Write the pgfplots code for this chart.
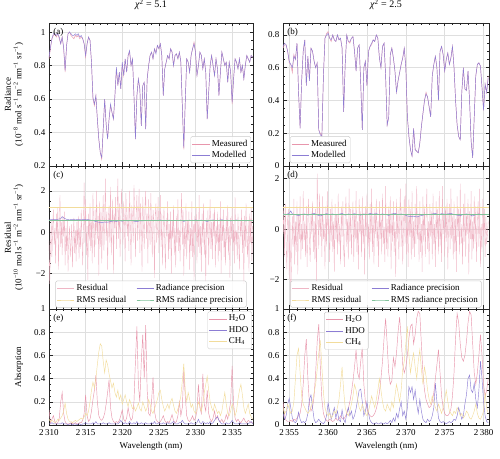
\documentclass[border=0pt]{standalone}
\usepackage{fontspec}
\setmainfont{Liberation Serif}
\usepackage{pgfplots}
\usepackage{pgfplotstable}
\pgfplotsset{compat=1.18}
\definecolor{pinkc}{RGB}{232,150,172}
\definecolor{purplec}{RGB}{140,125,212}
\definecolor{yellowc}{RGB}{242,220,155}
\definecolor{greenc}{RGB}{130,195,155}

\pgfplotsset{
  myax/.style={
    scale only axis,
    anchor=south west,
    font=\fontsize{9}{10.5}\selectfont,
    /pgf/number format/assume math mode=true,
    axis line style={black!85, line width=0.6pt},
    grid=major,
    major grid style={gray!25, line width=0.5pt},
    tick align=inside,
    major tick length=3.5pt,
    minor tick length=2pt,
    tick style={black!85, line width=0.5pt},
    every axis plot/.append style={line width=0.45pt},
    xticklabel style={yshift=-1pt},
    legend style={font=\fontsize{9}{10.5}\selectfont, draw=gray!40, fill=white, fill opacity=0.85, text opacity=1, draw opacity=1, rounded corners=1.5pt, inner sep=1.5pt},
    legend cell align=left,
    title style={anchor=base, at={(axis description cs:0.5,1)}, yshift=9pt, font=\fontsize{10}{12}\selectfont},
  },
  leftcol/.style={xmin=2310, xmax=2337.85, width=204pt, xtick={2310,2315,2320,2325,2330,2335}, minor xtick={2311,2312,...,2337}},
  rightcol/.style={xmin=2354.2, xmax=2380.7, width=206pt, xtick={2355,2360,2365,2370,2375,2380}, minor xtick={2355,2356,...,2380}},
}

\pgfplotstableread{
x meas model
2310.0 0.84 0.85
2310.2 0.90 0.91
2310.4 0.96 0.96
2310.6 0.98 0.99
2310.8 0.99 0.99
2311.0 0.97 0.98
2311.2 0.99 0.99
2311.4 0.96 0.97
2311.6 0.93 0.93
2311.8 0.97 0.97
2312.0 0.90 0.91
2312.2 0.76 0.77
2312.4 0.92 0.92
2312.6 0.99 0.99
2312.8 1.00 1.00
2313.0 0.98 0.99
2313.2 0.97 0.98
2313.4 0.96 0.98
2313.6 0.98 0.99
2313.8 0.97 0.98
2314.0 0.98 0.99
2314.2 0.96 0.97
2314.4 0.97 0.98
2314.6 0.96 0.96
2314.8 0.93 0.93
2315.0 0.85 0.86
2315.2 0.93 0.93
2315.4 0.97 0.97
2315.6 0.95 0.95
2315.8 0.82 0.82
2316.0 0.60 0.61
2316.2 0.56 0.57
2316.4 0.62 0.62
2316.6 0.48 0.48
2316.8 0.36 0.36
2317.0 0.28 0.28
2317.2 0.24 0.25
2317.4 0.42 0.42
2317.6 0.60 0.60
2317.8 0.45 0.45
2318.0 0.36 0.36
2318.2 0.48 0.48
2318.4 0.56 0.57
2318.6 0.52 0.52
2318.8 0.48 0.48
2319.0 0.62 0.62
2319.2 0.78 0.79
2319.4 0.68 0.68
2319.6 0.76 0.76
2319.8 0.66 0.66
2320.0 0.81 0.82
2320.2 0.74 0.74
2320.4 0.84 0.84
2320.6 0.76 0.76
2320.8 0.86 0.86
2321.0 0.88 0.89
2321.2 0.80 0.80
2321.4 0.84 0.84
2321.6 0.62 0.62
2321.8 0.36 0.36
2322.0 0.62 0.62
2322.2 0.72 0.72
2322.4 0.66 0.66
2322.6 0.44 0.44
2322.8 0.68 0.68
2323.0 0.70 0.70
2323.2 0.42 0.42
2323.4 0.72 0.72
2323.6 0.80 0.80
2323.8 0.86 0.86
2324.0 0.88 0.88
2324.2 0.84 0.84
2324.4 0.90 0.90
2324.6 0.88 0.87
2324.8 0.92 0.92
2325.0 0.90 0.90
2325.2 0.93 0.93
2325.4 0.86 0.86
2325.6 0.62 0.62
2325.8 0.78 0.78
2326.0 0.82 0.82
2326.2 0.86 0.86
2326.4 0.84 0.84
2326.6 0.90 0.90
2326.8 0.88 0.88
2327.0 0.80 0.80
2327.2 0.86 0.86
2327.4 0.87 0.87
2327.6 0.84 0.84
2327.8 0.88 0.88
2328.0 0.82 0.82
2328.2 0.56 0.56
2328.4 0.30 0.31
2328.6 0.58 0.58
2328.8 0.84 0.84
2329.0 0.82 0.82
2329.2 0.76 0.76
2329.4 0.86 0.86
2329.6 0.90 0.90
2329.8 0.94 0.93
2330.0 0.88 0.88
2330.2 0.74 0.74
2330.4 0.80 0.80
2330.6 0.88 0.88
2330.8 0.86 0.86
2331.0 0.78 0.78
2331.2 0.84 0.84
2331.4 0.76 0.76
2331.6 0.48 0.48
2331.8 0.64 0.64
2332.0 0.80 0.80
2332.2 0.86 0.86
2332.4 0.80 0.80
2332.6 0.74 0.74
2332.8 0.84 0.84
2333.0 0.78 0.78
2333.2 0.62 0.62
2333.4 0.76 0.76
2333.6 0.88 0.88
2333.8 0.84 0.84
2334.0 0.80 0.80
2334.2 0.82 0.82
2334.4 0.70 0.70
2334.6 0.82 0.82
2334.8 0.76 0.76
2335.0 0.57 0.58
2335.2 0.72 0.72
2335.4 0.84 0.84
2335.6 0.82 0.82
2335.8 0.78 0.78
2336.0 0.84 0.84
2336.2 0.76 0.76
2336.4 0.80 0.80
2336.6 0.72 0.72
2336.8 0.80 0.80
2337.0 0.86 0.86
2337.2 0.84 0.84
2337.4 0.82 0.82
2337.6 0.86 0.86
2337.8 0.85 0.85
}\taba

\pgfplotstableread{
x meas model
2354.2 0.72 0.73
2354.4 0.74 0.75
2354.6 0.74 0.74
2354.8 0.70 0.70
2355.0 0.63 0.64
2355.2 0.62 0.62
2355.4 0.57 0.60
2355.6 0.68 0.67
2355.8 0.65 0.65
2356.0 0.75 0.75
2356.2 0.45 0.45
2356.4 0.23 0.23
2356.6 0.52 0.52
2356.8 0.70 0.70
2357.0 0.77 0.77
2357.2 0.49 0.49
2357.4 0.67 0.67
2357.6 0.52 0.52
2357.8 0.72 0.72
2358.0 0.70 0.70
2358.2 0.64 0.64
2358.4 0.60 0.60
2358.6 0.63 0.63
2358.8 0.22 0.22
2359.0 0.20 0.19
2359.2 0.18 0.18
2359.4 0.55 0.55
2359.6 0.78 0.78
2359.8 0.81 0.80
2360.0 0.82 0.81
2360.2 0.78 0.78
2360.4 0.76 0.77
2360.6 0.80 0.80
2360.8 0.77 0.77
2361.0 0.76 0.76
2361.2 0.80 0.80
2361.4 0.77 0.77
2361.6 0.78 0.78
2361.8 0.72 0.72
2362.0 0.33 0.33
2362.2 0.62 0.62
2362.4 0.80 0.80
2362.6 0.76 0.76
2362.8 0.75 0.76
2363.0 0.78 0.78
2363.2 0.79 0.79
2363.4 0.70 0.70
2363.6 0.58 0.58
2363.8 0.72 0.72
2364.0 0.74 0.74
2364.2 0.50 0.50
2364.4 0.22 0.22
2364.6 0.60 0.60
2364.8 0.64 0.64
2365.0 0.49 0.49
2365.2 0.70 0.70
2365.4 0.73 0.73
2365.6 0.74 0.75
2365.8 0.77 0.77
2366.0 0.76 0.76
2366.2 0.80 0.80
2366.4 0.78 0.78
2366.6 0.66 0.66
2366.8 0.60 0.60
2367.0 0.73 0.73
2367.2 0.75 0.75
2367.4 0.55 0.55
2367.6 0.25 0.25
2367.8 0.30 0.30
2368.0 0.68 0.68
2368.2 0.72 0.72
2368.4 0.66 0.66
2368.6 0.58 0.58
2368.8 0.45 0.45
2369.0 0.52 0.52
2369.2 0.57 0.57
2369.4 0.62 0.62
2369.6 0.66 0.66
2369.8 0.72 0.72
2370.0 0.60 0.60
2370.2 0.30 0.30
2370.4 0.18 0.18
2370.6 0.10 0.10
2370.8 0.06 0.06
2371.0 0.23 0.23
2371.2 0.10 0.10
2371.4 0.09 0.09
2371.6 0.08 0.08
2371.8 0.14 0.14
2372.0 0.24 0.24
2372.2 0.32 0.32
2372.4 0.40 0.40
2372.6 0.45 0.44
2372.8 0.42 0.42
2373.0 0.36 0.36
2373.2 0.30 0.30
2373.4 0.55 0.55
2373.6 0.62 0.62
2373.8 0.67 0.67
2374.0 0.60 0.60
2374.2 0.40 0.40
2374.4 0.70 0.70
2374.6 0.73 0.73
2374.8 0.68 0.68
2375.0 0.58 0.58
2375.2 0.65 0.65
2375.4 0.69 0.69
2375.6 0.62 0.62
2375.8 0.66 0.66
2376.0 0.73 0.73
2376.2 0.60 0.60
2376.4 0.40 0.40
2376.6 0.25 0.25
2376.8 0.18 0.18
2377.0 0.16 0.16
2377.2 0.45 0.45
2377.4 0.60 0.60
2377.6 0.47 0.47
2377.8 0.46 0.46
2378.0 0.58 0.58
2378.2 0.40 0.40
2378.4 0.15 0.15
2378.6 0.05 0.05
2378.8 0.30 0.30
2379.0 0.55 0.55
2379.2 0.62 0.62
2379.4 0.63 0.63
2379.6 0.61 0.61
2379.8 0.48 0.48
2380.0 0.34 0.34
2380.2 0.50 0.50
2380.4 0.45 0.45
2380.6 0.55 0.54
}\tabb

\pgfplotstableread[row sep=\\]{
x r\\
2310.0 -0.4\\2310.1 -2.5\\2310.2 -0.8\\2310.3 0.6\\2310.4 -1.2\\2310.5 0.3\\2310.6 1.1\\2310.7 -0.6\\2310.8 0.2\\2310.9 -1.5\\
2311.0 0.9\\2311.1 -0.3\\2311.2 1.2\\2311.3 -1.8\\2311.4 0.4\\2311.5 1.8\\2311.6 -0.7\\2311.7 0.5\\2311.8 -1.1\\2311.9 0.8\\
2312.0 -0.2\\2312.1 1.0\\2312.2 -1.6\\2312.3 0.2\\2312.4 -0.9\\2312.5 0.6\\2312.6 -1.9\\2312.7 -0.4\\2312.8 0.3\\2312.9 -1.2\\
2313.0 -0.5\\2313.1 0.4\\2313.2 -1.7\\2313.3 -0.2\\2313.4 0.7\\2313.5 -1.0\\2313.6 0.1\\2313.7 -1.4\\2313.8 0.5\\2313.9 -0.6\\
2314.0 0.8\\2314.1 -1.3\\2314.2 0.2\\2314.3 -0.8\\2314.4 1.1\\2314.5 -0.3\\2314.6 -1.6\\2314.7 0.4\\2314.8 2.4\\2314.9 -0.5\\
2315.0 1.6\\2315.1 -1.1\\2315.2 0.3\\2315.3 -2.3\\2315.4 0.9\\2315.5 -0.4\\2315.6 1.4\\2315.7 -0.9\\2315.8 0.6\\2315.9 -1.5\\
2316.0 1.9\\2316.1 0.2\\2316.2 -1.2\\2316.3 1.1\\2316.4 -0.6\\2316.5 2.0\\2316.6 -0.3\\2316.7 0.8\\2316.8 -2.1\\2316.9 1.5\\
2317.0 -0.7\\2317.1 1.2\\2317.2 -1.5\\2317.3 0.4\\2317.4 1.8\\2317.5 -0.9\\2317.6 0.7\\2317.7 2.6\\2317.8 -0.4\\2317.9 1.0\\
2318.0 -1.8\\2318.1 0.6\\2318.2 1.3\\2318.3 -0.5\\2318.4 2.2\\2318.5 -1.1\\2318.6 0.3\\2318.7 1.6\\2318.8 -2.0\\2318.9 0.9\\
2319.0 0.2\\2319.1 1.7\\2319.2 -0.8\\2319.3 1.1\\2319.4 2.6\\2319.5 -0.3\\2319.6 1.4\\2319.7 -1.2\\2319.8 0.5\\2319.9 2.1\\
2320.0 0.8\\2320.1 -0.6\\2320.2 1.5\\2320.3 0.3\\2320.4 -1.4\\2320.5 1.9\\2320.6 0.6\\2320.7 -0.2\\2320.8 1.2\\2320.9 -0.9\\
2321.0 2.0\\2321.1 0.4\\2321.2 -1.6\\2321.3 1.3\\2321.4 0.7\\2321.5 -0.5\\2321.6 2.3\\2321.7 1.1\\2321.8 -1.2\\2321.9 0.9\\
2322.0 1.8\\2322.1 -0.4\\2322.2 0.6\\2322.3 2.1\\2322.4 -1.0\\2322.5 1.4\\2322.6 0.2\\2322.7 -1.9\\2322.8 1.7\\2322.9 0.5\\
2323.0 -0.8\\2323.1 1.2\\2323.2 2.0\\2323.3 -0.3\\2323.4 0.9\\2323.5 -1.5\\2323.6 1.6\\2323.7 0.4\\2323.8 -0.6\\2323.9 1.9\\
2324.0 0.3\\2324.1 -1.2\\2324.2 1.1\\2324.3 0.6\\2324.4 -2.2\\2324.5 0.8\\2324.6 1.4\\2324.7 -0.5\\2324.8 0.2\\2324.9 1.7\\
2325.0 -1.0\\2325.1 0.5\\2325.2 1.8\\2325.3 -0.7\\2325.4 0.9\\2325.5 -1.6\\2325.6 0.3\\2325.7 1.2\\2325.8 -0.4\\2325.9 -1.8\\
2326.0 0.7\\2326.1 -0.2\\2326.2 1.5\\2326.3 -1.3\\2326.4 0.4\\2326.5 -0.8\\2326.6 1.0\\2326.7 -2.0\\2326.8 0.6\\2326.9 -0.3\\
2327.0 1.3\\2327.1 -1.1\\2327.2 0.2\\2327.3 -1.7\\2327.4 0.8\\2327.5 -0.5\\2327.6 1.6\\2327.7 -0.9\\2327.8 0.1\\2327.9 -1.4\\
2328.0 0.5\\2328.1 1.9\\2328.2 -0.6\\2328.3 1.1\\2328.4 -2.1\\2328.5 0.3\\2328.6 -0.8\\2328.7 1.4\\2328.8 -1.3\\2328.9 0.6\\
2329.0 -0.4\\2329.1 1.0\\2329.2 -1.8\\2329.3 0.2\\2329.4 -0.9\\2329.5 1.5\\2329.6 -1.2\\2329.7 0.4\\2329.8 -2.3\\2329.9 0.8\\
2330.0 -0.1\\2330.1 1.2\\2330.2 -1.5\\2330.3 0.6\\2330.4 -0.7\\2330.5 1.8\\2330.6 -1.0\\2330.7 0.3\\2330.8 -1.9\\2330.9 0.9\\
2331.0 -0.5\\2331.1 1.4\\2331.2 -1.1\\2331.3 0.2\\2331.4 -2.4\\2331.5 0.7\\2331.6 -0.3\\2331.7 1.1\\2331.8 -1.6\\2331.9 0.4\\
2332.0 1.6\\2332.1 -0.8\\2332.2 0.5\\2332.3 -1.3\\2332.4 0.9\\2332.5 -0.2\\2332.6 1.2\\2332.7 -1.7\\2332.8 0.3\\2332.9 -0.6\\
2333.0 1.0\\2333.1 -1.4\\2333.2 0.4\\2333.3 -0.9\\2333.4 1.5\\2333.5 -2.0\\2333.6 0.6\\2333.7 -0.4\\2333.8 1.1\\2333.9 -1.2\\
2334.0 0.2\\2334.1 -1.6\\2334.2 0.8\\2334.3 -0.5\\2334.4 1.3\\2334.5 -1.1\\2334.6 0.3\\2334.7 -2.2\\2334.8 0.7\\2334.9 -0.3\\
2335.0 1.2\\2335.1 -0.9\\2335.2 0.4\\2335.3 -1.5\\2335.4 1.7\\2335.5 -0.6\\2335.6 0.1\\2335.7 -1.3\\2335.8 0.9\\2335.9 -0.4\\
2336.0 -1.8\\2336.1 0.6\\2336.2 -0.2\\2336.3 1.1\\2336.4 -1.0\\2336.5 0.5\\2336.6 -2.5\\2336.7 0.8\\2336.8 -0.7\\2336.9 1.4\\
2337.0 -0.3\\2337.1 -1.2\\2337.2 0.6\\2337.3 -1.9\\2337.4 0.9\\2337.5 -0.5\\2337.6 1.2\\2337.7 -1.4\\2337.8 0.3\\
}\resc

\pgfplotstableread[row sep=\\]{
x r\\
2354.2 -0.3\\2354.3 0.9\\2354.4 -1.1\\2354.5 1.0\\2354.6 -0.6\\2354.7 -1.6\\2354.8 0.4\\2354.9 0.8\\2355.0 -2.0\\2355.1 0.6\\
2355.2 -2.9\\2355.3 -1.2\\2355.4 0.5\\2355.5 -0.7\\2355.6 1.2\\2355.7 -1.4\\2355.8 0.3\\2355.9 -0.9\\2356.0 1.1\\2356.1 -1.8\\
2356.2 0.6\\2356.3 -0.4\\2356.4 1.3\\2356.5 -1.2\\2356.6 0.2\\2356.7 -0.8\\2356.8 1.5\\2356.9 -0.5\\2357.0 0.3\\2357.1 -1.1\\
2357.2 0.9\\2357.3 -1.5\\2357.4 0.4\\2357.5 1.2\\2357.6 -0.6\\2357.7 -1.3\\2357.8 0.7\\2357.9 -0.2\\2358.0 1.1\\2358.1 -0.9\\
2358.2 0.3\\2358.3 -1.2\\2358.4 0.8\\2358.5 -2.1\\2358.6 2.2\\2358.7 0.5\\2358.8 -0.8\\2358.9 1.4\\2359.0 -0.3\\2359.1 0.6\\
2359.2 -1.1\\2359.3 1.3\\2359.4 -0.4\\2359.5 0.2\\2359.6 -1.6\\2359.7 0.9\\2359.8 -0.7\\2359.9 1.5\\2360.0 -0.2\\2360.1 0.4\\
2360.2 -1.3\\2360.3 0.8\\2360.4 -0.5\\2360.5 1.2\\2360.6 -0.9\\2360.7 0.3\\2360.8 -1.7\\2360.9 1.0\\2361.0 -0.4\\2361.1 0.6\\
2361.2 -1.0\\2361.3 1.4\\2361.4 -0.6\\2361.5 0.2\\2361.6 -1.4\\2361.7 0.9\\2361.8 -0.3\\2361.9 1.1\\2362.0 -0.8\\2362.1 -1.5\\
2362.2 0.5\\2362.3 1.3\\2362.4 -0.7\\2362.5 0.4\\2362.6 -1.2\\2362.7 1.6\\2362.8 -0.5\\2362.9 0.8\\2363.0 -1.0\\2363.1 0.2\\
2363.2 1.1\\2363.3 -1.3\\2363.4 0.6\\2363.5 -0.4\\2363.6 1.5\\2363.7 -0.9\\2363.8 0.3\\2363.9 -1.6\\2364.0 1.2\\2364.1 -0.2\\
2364.2 0.7\\2364.3 -1.1\\2364.4 1.3\\2364.5 -0.6\\2364.6 0.4\\2364.7 -1.8\\2364.8 0.9\\2364.9 -0.3\\2365.0 1.4\\2365.1 -0.8\\
2365.2 0.2\\2365.3 -1.2\\2365.4 1.0\\2365.5 -0.5\\2365.6 1.6\\2365.7 -0.9\\2365.8 0.5\\2365.9 -1.4\\2366.0 0.8\\2366.1 -0.2\\
2366.2 1.2\\2366.3 -0.7\\2366.4 0.3\\2366.5 -1.5\\2366.6 1.1\\2366.7 -0.4\\2366.8 0.6\\2366.9 -1.0\\2367.0 1.4\\2367.1 -0.6\\
2367.2 0.1\\2367.3 -1.3\\2367.4 1.7\\2367.5 -0.8\\2367.6 0.4\\2367.7 -1.1\\2367.8 0.9\\2367.9 -0.3\\2368.0 1.3\\2368.1 -1.6\\
2368.2 0.6\\2368.3 -0.5\\2368.4 1.1\\2368.5 -0.9\\2368.6 0.3\\2368.7 -1.9\\2368.8 1.2\\2368.9 -0.4\\2369.0 0.8\\2369.1 -1.2\\
2369.2 0.4\\2369.3 1.6\\2369.4 -0.7\\2369.5 0.9\\2369.6 -1.4\\2369.7 0.2\\2369.8 1.3\\2369.9 -0.6\\2370.0 1.8\\2370.1 -1.0\\
2370.2 0.5\\2370.3 -1.5\\2370.4 1.2\\2370.5 -0.3\\2370.6 0.8\\2370.7 -1.2\\2370.8 1.5\\2370.9 -0.8\\2371.0 0.3\\2371.1 -1.1\\
2371.2 1.0\\2371.3 -0.6\\2371.4 1.7\\2371.5 -0.4\\2371.6 0.6\\2371.7 -1.3\\2371.8 1.1\\2371.9 -0.9\\2372.0 0.2\\2372.1 -1.7\\
2372.2 1.3\\2372.3 -0.5\\2372.4 0.9\\2372.5 -1.1\\2372.6 0.4\\2372.7 1.6\\2372.8 -0.8\\2372.9 0.3\\2373.0 -1.4\\2373.1 1.0\\
2373.2 -0.3\\2373.3 0.7\\2373.4 -1.2\\2373.5 1.4\\2373.6 -0.6\\2373.7 0.2\\2373.8 -1.5\\2373.9 1.1\\2374.0 -0.4\\2374.1 0.8\\
2374.2 -1.0\\2374.3 1.5\\2374.4 -0.7\\2374.5 0.4\\2374.6 -1.3\\2374.7 1.7\\2374.8 -0.2\\2374.9 0.6\\2375.0 -1.1\\2375.1 0.9\\
2375.2 -0.5\\2375.3 1.2\\2375.4 -1.6\\2375.5 0.3\\2375.6 1.0\\2375.7 -0.8\\2375.8 1.6\\2375.9 -0.4\\2376.0 0.5\\2376.1 -1.2\\
2376.2 1.1\\2376.3 -0.9\\2376.4 0.4\\2376.5 -1.7\\2376.6 1.3\\2376.7 -0.3\\2376.8 0.8\\2376.9 -1.0\\2377.0 1.8\\2377.1 -0.6\\
2377.2 0.2\\2377.3 -1.4\\2377.4 1.0\\2377.5 -0.5\\2377.6 1.4\\2377.7 -1.1\\2377.8 0.6\\2377.9 -0.2\\2378.0 1.2\\2378.1 -1.8\\
2378.2 0.7\\2378.3 -0.4\\2378.4 1.5\\2378.5 -1.2\\2378.6 0.3\\2378.7 -0.8\\2378.8 1.3\\2378.9 -0.6\\2379.0 0.9\\2379.1 -1.3\\
2379.2 0.4\\2379.3 1.1\\2379.4 -0.7\\2379.5 1.6\\2379.6 -1.5\\2379.7 0.2\\2379.8 -0.9\\2379.9 1.2\\2380.0 -0.3\\2380.1 0.8\\
2380.2 -1.1\\2380.3 0.5\\2380.4 -0.6\\2380.5 -0.2\\2380.6 0.3\\
}\resd

\pgfplotstableread{
x h2o hdo ch4
2310.0 0.13 0.01 0.05
2310.2 0.02 0.01 0.03
2310.4 0.05 0.02 0.04
2310.6 0.08 0.01 0.03
2310.8 0.03 0.01 0.02
2311.0 0.01 0.01 0.03
2311.2 0.02 0.01 0.05
2311.4 0.06 0.01 0.04
2311.6 0.20 0.01 0.06
2311.8 0.28 0.02 0.08
2312.0 0.10 0.01 0.12
2312.2 0.03 0.01 0.19
2312.4 0.01 0.01 0.10
2312.6 0.01 0.00 0.05
2312.8 0.01 0.01 0.03
2313.0 0.02 0.01 0.03
2313.2 0.01 0.00 0.02
2313.4 0.01 0.01 0.03
2313.6 0.02 0.01 0.04
2313.8 0.01 0.00 0.03
2314.0 0.01 0.01 0.04
2314.2 0.02 0.01 0.05
2314.4 0.02 0.00 0.06
2314.6 0.04 0.01 0.05
2314.8 0.10 0.01 0.07
2315.0 0.26 0.02 0.10
2315.2 0.08 0.01 0.08
2315.4 0.03 0.01 0.12
2315.6 0.05 0.01 0.20
2315.8 0.12 0.01 0.30
2316.0 0.22 0.02 0.37
2316.2 0.30 0.01 0.32
2316.4 0.43 0.03 0.40
2316.6 0.20 0.01 0.52
2316.8 0.08 0.01 0.63
2317.0 0.05 0.01 0.70
2317.2 0.04 0.01 0.68
2317.4 0.06 0.02 0.55
2317.6 0.10 0.01 0.45
2317.8 0.18 0.01 0.56
2318.0 0.28 0.01 0.52
2318.2 0.39 0.02 0.44
2318.4 0.15 0.01 0.38
2318.6 0.06 0.01 0.32
2318.8 0.03 0.01 0.36
2319.0 0.02 0.01 0.28
2319.2 0.03 0.01 0.24
2319.4 0.02 0.01 0.30
2319.6 0.04 0.02 0.22
2319.8 0.08 0.04 0.26
2320.0 0.13 0.02 0.18
2320.2 0.05 0.01 0.22
2320.4 0.03 0.02 0.26
2320.6 0.06 0.01 0.20
2320.8 0.15 0.01 0.16
2321.0 0.08 0.03 0.22
2321.2 0.04 0.01 0.18
2321.4 0.06 0.01 0.14
2321.6 0.20 0.02 0.16
2321.8 0.55 0.01 0.12
2322.0 0.85 0.03 0.15
2322.2 0.35 0.01 0.19
2322.4 0.20 0.01 0.14
2322.6 0.55 0.02 0.12
2322.8 0.78 0.01 0.20
2323.0 0.40 0.01 0.16
2323.2 0.86 0.02 0.12
2323.4 0.30 0.01 0.15
2323.6 0.10 0.01 0.22
2323.8 0.08 0.01 0.18
2324.0 0.20 0.02 0.12
2324.2 0.41 0.01 0.10
2324.4 0.12 0.03 0.14
2324.6 0.05 0.01 0.18
2324.8 0.03 0.01 0.22
2325.0 0.02 0.02 0.28
2325.2 0.03 0.01 0.30
2325.4 0.05 0.01 0.22
2325.6 0.08 0.02 0.16
2325.8 0.04 0.01 0.12
2326.0 0.02 0.01 0.15
2326.2 0.03 0.02 0.18
2326.4 0.02 0.01 0.14
2326.6 0.05 0.01 0.20
2326.8 0.09 0.02 0.23
2327.0 0.04 0.03 0.17
2327.2 0.02 0.01 0.12
2327.4 0.03 0.01 0.10
2327.6 0.08 0.01 0.14
2327.8 0.20 0.02 0.18
2328.0 0.08 0.02 0.25
2328.2 0.15 0.04 0.38
2328.4 0.47 0.02 0.53
2328.6 0.25 0.01 0.30
2328.8 0.08 0.01 0.20
2329.0 0.04 0.01 0.28
2329.2 0.03 0.01 0.22
2329.4 0.05 0.02 0.15
2329.6 0.08 0.01 0.18
2329.8 0.04 0.01 0.12
2330.0 0.06 0.01 0.10
2330.2 0.12 0.02 0.14
2330.4 0.35 0.05 0.20
2330.6 0.15 0.02 0.16
2330.8 0.10 0.01 0.12
2331.0 0.44 0.03 0.18
2331.2 0.18 0.02 0.28
2331.4 0.12 0.01 0.35
2331.6 0.30 0.02 0.42
2331.8 0.10 0.01 0.30
2332.0 0.05 0.03 0.20
2332.2 0.03 0.01 0.15
2332.4 0.06 0.02 0.12
2332.6 0.12 0.04 0.18
2332.8 0.05 0.06 0.14
2333.0 0.08 0.07 0.10
2333.2 0.04 0.04 0.12
2333.4 0.03 0.02 0.08
2333.6 0.05 0.01 0.12
2333.8 0.02 0.01 0.20
2334.0 0.04 0.01 0.28
2334.2 0.09 0.02 0.18
2334.4 0.05 0.01 0.10
2334.6 0.12 0.01 0.08
2334.8 0.20 0.02 0.12
2335.0 0.51 0.04 0.18
2335.2 0.18 0.02 0.14
2335.4 0.06 0.01 0.08
2335.6 0.03 0.01 0.12
2335.8 0.05 0.01 0.22
2336.0 0.03 0.02 0.30
2336.2 0.02 0.01 0.35
2336.4 0.04 0.01 0.26
2336.6 0.06 0.01 0.15
2336.8 0.03 0.01 0.10
2337.0 0.02 0.01 0.14
2337.2 0.04 0.01 0.18
2337.4 0.03 0.02 0.10
2337.6 0.02 0.03 0.07
2337.8 0.02 0.01 0.05
}\tabe

\pgfplotstableread{
x h2o hdo ch4
2354.2 0.20 0.10 0.15
2354.4 0.08 0.05 0.10
2354.6 0.04 0.08 0.12
2354.8 0.03 0.18 0.18
2355.0 0.03 0.23 0.14
2355.2 0.04 0.15 0.10
2355.4 0.03 0.06 0.12
2355.6 0.05 0.03 0.20
2355.8 0.04 0.02 0.40
2356.0 0.06 0.04 0.60
2356.2 0.08 0.11 0.66
2356.4 0.10 0.05 0.45
2356.6 0.18 0.02 0.25
2356.8 0.35 0.03 0.18
2357.0 0.60 0.02 0.15
2357.2 0.74 0.04 0.12
2357.4 0.40 0.10 0.10
2357.6 0.18 0.22 0.12
2357.8 0.12 0.26 0.15
2358.0 0.15 0.15 0.20
2358.2 0.25 0.05 0.28
2358.4 0.45 0.02 0.35
2358.6 0.72 0.03 0.48
2358.8 0.87 0.05 0.62
2359.0 0.50 0.03 0.73
2359.2 0.22 0.02 0.50
2359.4 0.10 0.01 0.28
2359.6 0.06 0.03 0.15
2359.8 0.04 0.08 0.10
2360.0 0.03 0.19 0.08
2360.2 0.05 0.12 0.10
2360.4 0.04 0.05 0.06
2360.6 0.03 0.10 0.08
2360.8 0.04 0.15 0.12
2361.0 0.06 0.06 0.10
2361.2 0.04 0.12 0.15
2361.4 0.05 0.04 0.22
2361.6 0.08 0.03 0.35
2361.8 0.06 0.13 0.50
2362.0 0.05 0.05 0.30
2362.2 0.07 0.02 0.15
2362.4 0.10 0.10 0.10
2362.6 0.14 0.15 0.08
2362.8 0.20 0.08 0.12
2363.0 0.28 0.12 0.18
2363.2 0.38 0.05 0.25
2363.4 0.50 0.08 0.35
2363.6 0.65 0.14 0.30
2363.8 0.45 0.22 0.22
2364.0 0.40 0.30 0.15
2364.2 0.55 0.31 0.12
2364.4 0.67 0.20 0.18
2364.6 0.35 0.08 0.14
2364.8 0.20 0.12 0.10
2365.0 0.14 0.20 0.08
2365.2 0.10 0.10 0.12
2365.4 0.08 0.04 0.18
2365.6 0.07 0.02 0.25
2365.8 0.08 0.01 0.20
2366.0 0.10 0.01 0.15
2366.2 0.14 0.02 0.22
2366.4 0.20 0.01 0.30
2366.6 0.28 0.01 0.40
2366.8 0.40 0.02 0.30
2367.0 0.55 0.01 0.20
2367.2 0.75 0.01 0.14
2367.4 0.92 0.02 0.12
2367.6 0.70 0.01 0.18
2367.8 0.45 0.02 0.15
2368.0 0.35 0.04 0.12
2368.2 0.38 0.02 0.20
2368.4 0.58 0.06 0.15
2368.6 0.50 0.03 0.25
2368.8 0.62 0.10 0.35
2369.0 0.80 0.06 0.28
2369.2 0.93 0.14 0.20
2369.4 0.75 0.20 0.30
2369.6 0.52 0.08 0.48
2369.8 0.45 0.12 0.55
2370.0 0.50 0.05 0.70
2370.2 0.60 0.15 0.85
2370.4 0.75 0.33 0.60
2370.6 0.85 0.28 0.45
2370.8 0.87 0.33 0.55
2371.0 0.70 0.22 0.62
2371.2 0.78 0.30 0.50
2371.4 0.92 0.18 0.40
2371.6 0.98 0.10 0.55
2371.8 0.96 0.22 0.65
2372.0 0.70 0.12 0.48
2372.2 0.45 0.05 0.35
2372.4 0.30 0.03 0.50
2372.6 0.22 0.02 0.42
2372.8 0.18 0.05 0.30
2373.0 0.15 0.03 0.22
2373.2 0.16 0.04 0.18
2373.4 0.20 0.08 0.25
2373.6 0.28 0.15 0.20
2373.8 0.40 0.36 0.15
2374.0 0.52 0.20 0.12
2374.2 0.65 0.06 0.18
2374.4 0.45 0.03 0.14
2374.6 0.25 0.02 0.10
2374.8 0.15 0.03 0.15
2375.0 0.10 0.02 0.22
2375.2 0.08 0.01 0.30
2375.4 0.08 0.02 0.20
2375.6 0.10 0.03 0.12
2375.8 0.14 0.02 0.10
2376.0 0.25 0.03 0.08
2376.2 0.45 0.05 0.12
2376.4 0.75 0.04 0.10
2376.6 0.96 0.08 0.15
2376.8 0.88 0.15 0.12
2377.0 0.70 0.10 0.08
2377.2 0.58 0.05 0.10
2377.4 0.55 0.08 0.06
2377.6 0.60 0.18 0.08
2377.8 0.72 0.26 0.12
2378.0 0.88 0.40 0.10
2378.2 0.98 0.43 0.06
2378.4 0.95 0.30 0.05
2378.6 0.70 0.28 0.08
2378.8 0.45 0.36 0.12
2379.0 0.35 0.22 0.18
2379.2 0.45 0.15 0.10
2379.4 0.60 0.30 0.06
2379.6 0.78 0.55 0.05
2379.8 0.60 0.40 0.08
2380.0 0.35 0.20 0.12
2380.2 0.25 0.08 0.28
2380.4 0.30 0.03 0.15
2380.6 0.40 0.02 0.10
}\tabf

\begin{document}
\begin{tikzpicture}
\useasboundingbox (0,0) rectangle (500pt,458pt);

% ---------- (a) ----------
\begin{axis}[myax, leftcol, at={(49pt,292pt)}, height=143pt,
  ymin=0.2, ymax=1.054, ytick={0.2,0.4,0.6,0.8,1}, minor y tick num=3,
  xticklabels={},
  title={{\itshape χ}\textsuperscript{2} = 5.1},
  ylabel={Radiance\\(10\textsuperscript{−8} mol s\textsuperscript{−1} m\textsuperscript{−2} nm\textsuperscript{−1} sr\textsuperscript{−1})},
  ylabel style={align=center, at={(axis description cs:-0.172,0.5)}, anchor=center},
  legend style={at={(0.99,0.02)}, anchor=south east}]
\addplot[pinkc] table[x=x,y=meas]{\taba}; \addlegendentry{Measured}
\addplot[purplec] table[x=x,y=model]{\taba}; \addlegendentry{Modelled}
\node[anchor=north west, inner sep=0pt] at (rel axis cs:0.02,0.965) {(a)};
\end{axis}

% ---------- (b) ----------
\begin{axis}[myax, rightcol, at={(283pt,292pt)}, height=143pt,
  ymin=0, ymax=0.873, ytick={0,0.2,0.4,0.6,0.8}, minor y tick num=3,
  xticklabels={},
  title={{\itshape χ}\textsuperscript{2} = 2.5},
  legend style={at={(0.034,0.02)}, anchor=south west}]
\addplot[pinkc] table[x=x,y=meas]{\tabb}; \addlegendentry{Measured}
\addplot[purplec] table[x=x,y=model]{\tabb}; \addlegendentry{Modelled}
\node[anchor=north west, inner sep=0pt] at (rel axis cs:0.02,0.965) {(b)};
\end{axis}

% ---------- (c) ----------
\begin{axis}[myax, leftcol, at={(49pt,149pt)}, height=143pt,
  ymin=-3.71, ymax=3.21, ytick={-2,0,2}, yticklabels={−2,0,2}, minor y tick num=3,
  xticklabels={},
  ylabel={Residual\\(10\textsuperscript{−10} mol s\textsuperscript{−1} m\textsuperscript{−2} nm\textsuperscript{−1} sr\textsuperscript{−1})},
  ylabel style={align=center, at={(axis description cs:-0.172,0.5)}, anchor=center},
  legend columns=2,
  legend style={at={(0.5,0.01)}, anchor=south, /tikz/every even column/.append style={column sep=8pt}}]
\addplot[pinkc!70!white, line width=0.35pt] table[x=x,y=r]{\resc}; \addlegendentry{Residual}
\addplot[purplec] coordinates {(2310.0,0.60)(2310.4,0.62)(2310.8,0.61)(2311.2,0.63)(2311.6,0.66)(2311.8,0.76)(2312.0,0.70)(2312.4,0.63)(2312.8,0.62)(2313.2,0.63)(2313.6,0.62)(2314.0,0.63)(2314.4,0.62)(2314.8,0.63)(2315.2,0.62)(2315.6,0.60)(2316.0,0.57)(2316.4,0.52)(2316.8,0.49)(2317.2,0.47)(2317.6,0.50)(2318.0,0.49)(2318.4,0.52)(2318.8,0.55)(2319.2,0.53)(2319.6,0.56)(2320.0,0.54)(2320.4,0.57)(2320.8,0.55)(2321.2,0.58)(2321.6,0.54)(2322.0,0.52)(2322.4,0.56)(2322.8,0.55)(2323.2,0.58)(2323.6,0.56)(2324.0,0.59)(2324.4,0.56)(2324.8,0.58)(2325.2,0.60)(2325.6,0.55)(2326.0,0.57)(2326.4,0.59)(2326.8,0.56)(2327.2,0.58)(2327.6,0.57)(2328.0,0.59)(2328.4,0.53)(2328.8,0.57)(2329.2,0.59)(2329.6,0.56)(2330.0,0.60)(2330.4,0.57)(2330.8,0.59)(2331.2,0.56)(2331.6,0.53)(2332.0,0.58)(2332.4,0.60)(2332.8,0.56)(2333.2,0.58)(2333.6,0.61)(2334.0,0.57)(2334.4,0.59)(2334.8,0.55)(2335.2,0.57)(2335.6,0.60)(2336.0,0.56)(2336.4,0.58)(2336.8,0.55)(2337.2,0.58)(2337.8,0.56)};
\addlegendentry{Radiance precision}
\addplot[yellowc] coordinates {(2310,1.23)(2337.85,1.23)}; \addlegendentry{RMS residual}
\addplot[greenc] coordinates {(2310,0.57)(2337.85,0.57)}; \addlegendentry{RMS radiance precision}
\node[anchor=north west, inner sep=0pt] at (rel axis cs:0.02,0.965) {(c)};
\end{axis}

% ---------- (d) ----------
\begin{axis}[myax, rightcol, at={(283pt,149pt)}, height=143pt,
  ymin=-3.17, ymax=2.5, ytick={-2,0,2}, yticklabels={−2,0,2}, minor y tick num=3,
  xticklabels={},
  legend columns=2,
  legend style={at={(0.5,0.01)}, anchor=south, /tikz/every even column/.append style={column sep=8pt}}]
\addplot[pinkc!70!white, line width=0.35pt] table[x=x,y=r]{\resd}; \addlegendentry{Residual}
\addplot[purplec] coordinates {(2354.2,0.60)(2354.6,0.58)(2355.0,0.62)(2355.2,0.72)(2355.4,0.60)(2355.8,0.57)(2356.2,0.53)(2356.6,0.58)(2357.0,0.60)(2357.4,0.55)(2357.8,0.59)(2358.2,0.62)(2358.6,0.56)(2359.0,0.52)(2359.4,0.57)(2359.8,0.61)(2360.2,0.58)(2360.6,0.60)(2361.0,0.56)(2361.4,0.59)(2361.8,0.62)(2362.2,0.55)(2362.6,0.60)(2363.0,0.58)(2363.4,0.61)(2363.8,0.57)(2364.2,0.55)(2364.6,0.60)(2365.0,0.57)(2365.4,0.62)(2365.8,0.59)(2366.2,0.61)(2366.6,0.57)(2367.0,0.60)(2367.4,0.58)(2367.8,0.54)(2368.2,0.60)(2368.6,0.62)(2369.0,0.58)(2369.4,0.60)(2369.8,0.57)(2370.2,0.52)(2370.6,0.49)(2371.0,0.51)(2371.4,0.48)(2371.8,0.52)(2372.2,0.55)(2372.6,0.58)(2373.0,0.57)(2373.4,0.60)(2373.8,0.62)(2374.2,0.57)(2374.6,0.61)(2375.0,0.59)(2375.4,0.60)(2375.8,0.62)(2376.2,0.58)(2376.6,0.55)(2377.0,0.53)(2377.4,0.58)(2377.8,0.60)(2378.2,0.57)(2378.6,0.52)(2379.0,0.57)(2379.4,0.60)(2379.8,0.56)(2380.2,0.59)(2380.6,0.57)};
\addlegendentry{Radiance precision}
\addplot[yellowc] coordinates {(2354.2,0.88)(2380.7,0.88)}; \addlegendentry{RMS residual}
\addplot[greenc] coordinates {(2354.2,0.58)(2380.7,0.58)}; \addlegendentry{RMS radiance precision}
\node[anchor=north west, inner sep=0pt] at (rel axis cs:0.02,0.965) {(d)};
\end{axis}

% ---------- (e) ----------
\begin{axis}[myax, leftcol, at={(49pt,33pt)}, height=116pt,
  ymin=0, ymax=1, ytick={0,0.2,0.4,0.6,0.8,1}, minor y tick num=3,
  xticklabels={{2\,310},{2\,315},{2\,320},{2\,325},{2\,330},{2\,335}},
  xlabel={Wavelength (nm)},
  xlabel style={at={(axis description cs:0.5,-0.187)}, anchor=center},
  ylabel={Absorption},
  ylabel style={at={(axis description cs:-0.147,0.5)}, anchor=center},
  legend style={at={(0.995,0.98)}, anchor=north east}]
\addplot[pinkc] table[x=x,y=h2o]{\tabe}; \addlegendentry{H\textsubscript{2}O}
\addplot[purplec] table[x=x,y=hdo]{\tabe}; \addlegendentry{HDO}
\addplot[yellowc] table[x=x,y=ch4]{\tabe}; \addlegendentry{CH\textsubscript{4}}
\node[anchor=north west, inner sep=0pt] at (rel axis cs:0.02,0.955) {(e)};
\end{axis}

% ---------- (f) ----------
\begin{axis}[myax, rightcol, at={(283pt,33pt)}, height=116pt,
  ymin=0, ymax=1, ytick={0,0.2,0.4,0.6,0.8,1}, minor y tick num=3,
  xticklabels={{2\,355},{2\,360},{2\,365},{2\,370},{2\,375},{2\,380}},
  xlabel={Wavelength (nm)},
  xlabel style={at={(axis description cs:0.5,-0.187)}, anchor=center},
  legend style={at={(0.2,0.975)}, anchor=north west}]
\addplot[pinkc] table[x=x,y=h2o]{\tabf}; \addlegendentry{H\textsubscript{2}O}
\addplot[purplec] table[x=x,y=hdo]{\tabf}; \addlegendentry{HDO}
\addplot[yellowc] table[x=x,y=ch4]{\tabf}; \addlegendentry{CH\textsubscript{4}}
\node[anchor=north west, inner sep=0pt] at (rel axis cs:0.02,0.955) {(f)};
\end{axis}
\end{tikzpicture}
\end{document}
